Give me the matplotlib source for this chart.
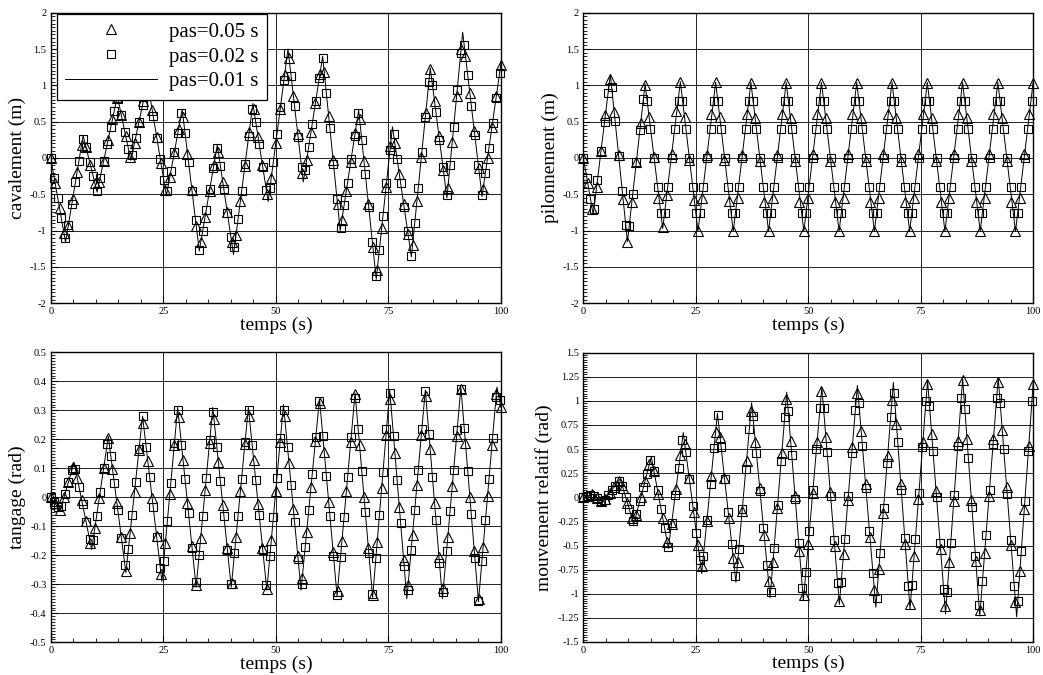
import numpy as np
import matplotlib
matplotlib.use('Agg')
import matplotlib.pyplot as plt
from matplotlib.ticker import MultipleLocator, FuncFormatter

plt.rcParams['font.family'] = ['Liberation Serif', 'DejaVu Serif']

# output times of the two coarse runs (s)
t_tri = np.arange(103) * 0.98     # pas=0.05 s
t_sq = np.arange(128) * 0.785     # pas=0.02 s

# ---- cavalement (m) ----
cav_tri = [0.00, -0.34, -0.69, -1.03, -0.93, -0.56, -0.19, 0.18, 0.15, -0.10,
           -0.34, -0.33, -0.04, 0.25, 0.53, 0.82, 0.59, 0.30, 0.02, 0.21,
           0.50, 0.78, 1.03, 0.66, 0.29, -0.07, -0.44, -0.26, 0.07, 0.40,
           0.57, 0.06, -0.44, -0.94, -1.16, -0.81, -0.45, -0.09, 0.08, -0.33,
           -0.74, -1.15, -1.06, -0.59, -0.11, 0.36, 0.68, 0.29, -0.10, -0.49,
           -0.27, 0.20, 0.67, 1.14, 1.38, 0.85, 0.33, -0.20, -0.03, 0.36,
           0.76, 1.15, 1.18, 0.58, -0.03, -0.63, -0.85, -0.45, -0.05, 0.34,
           0.54, -0.04, -0.63, -1.22, -1.54, -0.97, -0.40, 0.17, 0.20, -0.22,
           -0.64, -1.05, -1.20, -0.59, 0.01, 0.62, 1.23, 0.78, 0.30, -0.17,
           -0.42, 0.22, 0.86, 1.50, 1.40, 0.89, 0.37, -0.14, -0.43, 0.00,
           0.43, 0.86, 1.28]
cav_sq = [0.00, -0.28, -0.55, -0.83, -1.10, -0.92, -0.63, -0.33, -0.04, 0.26,
          0.15, -0.05, -0.25, -0.45, -0.27, -0.04, 0.19, 0.42, 0.65, 0.82,
          0.59, 0.36, 0.13, 0.04, 0.27, 0.50, 0.73, 0.96, 0.87, 0.58,
          0.28, -0.01, -0.30, -0.45, -0.18, 0.08, 0.35, 0.62, 0.35, -0.06,
          -0.46, -0.86, -1.26, -1.00, -0.72, -0.43, -0.14, 0.14, -0.11, -0.43,
          -0.76, -1.09, -1.22, -0.84, -0.46, -0.08, 0.30, 0.67, 0.50, 0.19,
          -0.12, -0.44, -0.42, -0.05, 0.33, 0.70, 1.08, 1.45, 1.13, 0.71,
          0.29, -0.13, -0.16, 0.15, 0.47, 0.79, 1.10, 1.37, 0.89, 0.41,
          -0.08, -0.56, -0.97, -0.65, -0.34, -0.02, 0.30, 0.62, 0.25, -0.22,
          -0.68, -1.15, -1.62, -1.26, -0.80, -0.34, 0.11, 0.33, -0.01, -0.34,
          -0.68, -1.01, -1.35, -0.89, -0.41, 0.08, 0.57, 1.05, 1.01, 0.63,
          0.25, -0.13, -0.51, -0.09, 0.42, 0.93, 1.44, 1.55, 1.14, 0.72,
          0.31, -0.10, -0.51, -0.20, 0.14, 0.48, 0.83, 1.17]
cav_t = [0, 3.3, 7.2, 10.3, 14.8, 17.8, 21.5, 25.7, 29.2, 33.0, 37.0, 40.6, 44.9, 48.3,
         52.7, 56.1, 60.4, 64.3, 68.4, 72.3, 75.9, 80.1, 84.3, 88.0, 91.5, 95.8, 100]
cav_line = [0, -1.16, 0.31, -0.47, 0.85, -0.03, 1.05, -0.52, 0.67, -1.28, 0.18, -1.33, 0.75, -0.60,
            1.50, -0.33, 1.40, -1.00, 0.66, -1.67, 0.43, -1.36, 1.24, -0.55, 1.73, -0.53, 1.30]

# ---- pilonnement (m) ----
pil_tri = [0.00, -0.35, -0.70, -0.40, 0.09, 0.59, 1.09, 0.63, 0.04, -0.56,
           -1.15, -0.61, -0.06, 0.48,
           1.00, 0.57, 0.01, -0.55, -0.95, -0.51, 0.06, 0.64,
           1.04, 0.56, -0.03, -0.58, -1.00, -0.55, 0.04, 0.61,
           1.04, 0.56, -0.03, -0.59, -1.00, -0.55, 0.04, 0.60,
           1.03, 0.55, -0.04, -0.60, -1.00, -0.55, 0.04, 0.60,
           1.03, 0.55, -0.04, -0.60, -1.00, -0.55, 0.05, 0.60,
           1.03, 0.55, -0.04, -0.60, -1.00, -0.55, 0.05, 0.60,
           1.03, 0.55, -0.04, -0.60, -1.00, -0.55, 0.05, 0.61,
           1.03, 0.55, -0.04, -0.60, -1.00, -0.55, 0.05, 0.61,
           1.03, 0.55, -0.04, -0.60, -1.00, -0.55, 0.05, 0.61,
           1.03, 0.55, -0.04, -0.60, -1.00, -0.55, 0.05, 0.61,
           1.03, 0.55, -0.04, -0.60, -1.00, -0.55, 0.05, 0.61,
           1.03]
pil_sq = [0.00, -0.28, -0.56, -0.70, -0.30, 0.10, 0.49, 0.89, 0.98, 0.51,
          0.03, -0.45, -0.92, -0.93, -0.49, -0.06, 0.38, 0.81,
          0.78, 0.40, 0.00, -0.40, -0.76, -0.76, -0.40, 0.00, 0.40, 0.78,
          0.78, 0.40, 0.00, -0.40, -0.76, -0.76, -0.40, 0.00, 0.40, 0.78,
          0.78, 0.40, 0.00, -0.40, -0.76, -0.76, -0.40, 0.00, 0.40, 0.78,
          0.78, 0.40, 0.00, -0.40, -0.76, -0.76, -0.40, 0.00, 0.40, 0.78,
          0.78, 0.40, 0.00, -0.40, -0.76, -0.76, -0.40, 0.00, 0.40, 0.78,
          0.78, 0.40, 0.00, -0.40, -0.76, -0.76, -0.40, 0.00, 0.40, 0.78,
          0.78, 0.40, 0.00, -0.40, -0.76, -0.76, -0.40, 0.00, 0.40, 0.78,
          0.78, 0.40, 0.00, -0.40, -0.76, -0.76, -0.40, 0.00, 0.40, 0.78,
          0.78, 0.40, 0.00, -0.40, -0.76, -0.76, -0.40, 0.00, 0.40, 0.78,
          0.78, 0.40, 0.00, -0.40, -0.76, -0.76, -0.40, 0.00, 0.40, 0.78,
          0.78, 0.40, 0.00, -0.40, -0.76, -0.76, -0.40, 0.00, 0.40, 0.78]
pil_t = [0, 2.2, 6.0, 9.8, 13.72, 17.64, 21.56, 25.48, 29.40, 33.32, 37.24, 41.16, 45.08, 49.00,
         52.92, 56.84, 60.76, 64.68, 68.60, 72.52, 76.44, 80.36, 84.28, 88.20, 92.12, 96.04, 99.96, 100]
pil_line = [0, -0.78, 1.15, -1.15, 1.02, -0.97, 1.05, -1.01, 1.04, -1.01, 1.04, -1.01, 1.04, -1.01,
            1.04, -1.01, 1.04, -1.01, 1.04, -1.01, 1.04, -1.01, 1.04, -1.01, 1.04, -1.01, 1.04, 1.03]

# ---- tangage (rad) ----
tan_tri = [0.000, -0.021, -0.042, 0.000, 0.052, 0.104, 0.068, -0.008, -0.083, -0.158,
           -0.106, -0.003, 0.100, 0.204, 0.099, -0.019, -0.137, -0.255, -0.123, 0.020,
           0.163, 0.256, 0.126, -0.004, -0.134, -0.264, -0.156, 0.012, 0.180, 0.277,
           0.129, -0.020, -0.168, -0.303, -0.139, 0.025, 0.189, 0.271, 0.123, -0.026,
           -0.174, -0.297, -0.137, 0.023, 0.183, 0.279, 0.129, -0.022, -0.173, -0.317,
           -0.147, 0.023, 0.192, 0.281, 0.120, -0.041, -0.202, -0.278, -0.120, 0.037,
           0.195, 0.326, 0.155, -0.016, -0.187, -0.323, -0.151, 0.021, 0.192, 0.356,
           0.179, 0.002, -0.175, -0.337, -0.153, 0.031, 0.216, 0.340, 0.154, -0.032,
           -0.217, -0.301, -0.129, 0.043, 0.215, 0.351, 0.165, -0.020, -0.206, -0.311,
           -0.136, 0.038, 0.212, 0.372, 0.187, 0.001, -0.185, -0.349, -0.172, 0.005,
           0.182, 0.358, 0.313]
tan_sq = [0.000, -0.017, -0.034, -0.031, 0.010, 0.052, 0.094, 0.097, 0.037, -0.023,
          -0.084, -0.144, -0.146, -0.064, 0.019, 0.102, 0.185, 0.144, 0.050, -0.045,
          -0.139, -0.234, -0.177, -0.062, 0.052, 0.167, 0.280, 0.175, 0.070, -0.034,
          -0.138, -0.242, -0.218, -0.083, 0.051, 0.186, 0.301, 0.182, 0.064, -0.055,
          -0.174, -0.293, -0.198, -0.066, 0.065, 0.197, 0.293, 0.175, 0.056, -0.063,
          -0.181, -0.300, -0.192, -0.064, 0.064, 0.192, 0.301, 0.180, 0.059, -0.061,
          -0.182, -0.302, -0.204, -0.068, 0.068, 0.203, 0.302, 0.173, 0.044, -0.085,
          -0.213, -0.298, -0.172, -0.045, 0.081, 0.207, 0.333, 0.210, 0.073, -0.064,
          -0.201, -0.337, -0.205, -0.068, 0.070, 0.207, 0.344, 0.234, 0.092, -0.050,
          -0.191, -0.333, -0.209, -0.062, 0.086, 0.234, 0.359, 0.210, 0.061, -0.088,
          -0.236, -0.318, -0.180, -0.042, 0.096, 0.234, 0.368, 0.219, 0.071, -0.078,
          -0.227, -0.326, -0.186, -0.047, 0.093, 0.233, 0.373, 0.239, 0.090, -0.059,
          -0.208, -0.357, -0.221, -0.079, 0.062, 0.204, 0.346, 0.334]
tan_t = [0, 2.1, 5.2, 9.1, 12.8, 16.7, 20.4, 24.7, 28.2, 32.3, 36.0, 40.1, 43.9, 48.0,
         51.7, 55.6, 59.7, 63.6, 67.6, 71.5, 75.3, 79.1, 83.2, 87.0, 91.1, 95.0, 99.1, 100]
tan_line = [0, -0.045, 0.12, -0.18, 0.21, -0.26, 0.28, -0.29, 0.31, -0.31, 0.31, -0.31, 0.31, -0.32,
            0.32, -0.32, 0.34, -0.34, 0.36, -0.345, 0.37, -0.35, 0.37, -0.35, 0.38, -0.36, 0.38, 0.31]

# ---- mouvement relatif (rad) ----
rel_tri = [0.000, 0.015, 0.029, -0.003, -0.037, -0.013, 0.047, 0.107, 0.168, 0.093,
           -0.061, -0.214, -0.179, 0.004, 0.172, 0.348, 0.275, 0.030, -0.215, -0.460,
           -0.275, 0.081, 0.437, 0.549, 0.200, -0.149, -0.498, -0.714, -0.249, 0.216,
           0.680, 0.622, 0.204, -0.214, -0.632, -0.667, -0.147, 0.374, 0.895, 0.576,
           0.093, -0.390, -0.873, -0.672, -0.107, 0.457, 1.021, 0.588, 0.016, -0.556,
           -1.016, -0.488, 0.040, 0.569, 1.097, 0.621, 0.055, -0.510, -1.075, -0.588,
           -0.032, 0.524, 1.081, 0.689, 0.139, -0.411, -0.961, -0.746, -0.160, 0.425,
           1.011, 0.758, 0.136, -0.487, -1.109, -0.613, -0.018, 0.578, 1.174, 0.653,
           0.061, -0.532, -1.125, -0.671, -0.041, 0.588, 1.220, 0.609, -0.026, -0.660,
           -1.170, -0.579, 0.011, 0.601, 1.192, 0.696, 0.103, -0.490, -1.083, -0.765,
           -0.119, 0.527, 1.174]
rel_sq = [0.000, 0.012, 0.024, 0.018, -0.010, -0.037, -0.025, 0.023, 0.072, 0.120,
          0.168, 0.122, 0.001, -0.124, -0.247, -0.177, -0.036, 0.105, 0.246, 0.387,
          0.270, 0.074, -0.123, -0.319, -0.515, -0.266, 0.019, 0.304, 0.590, 0.469,
          0.189, -0.090, -0.370, -0.649, -0.605, -0.233, 0.140, 0.512, 0.857, 0.522,
          0.187, -0.148, -0.483, -0.818, -0.540, -0.123, 0.294, 0.712, 0.842, 0.455,
          0.069, -0.318, -0.705, -0.980, -0.528, -0.076, 0.376, 0.828, 0.897, 0.439,
          -0.019, -0.478, -0.936, -0.771, -0.348, 0.075, 0.498, 0.922, 0.921, 0.468,
          0.015, -0.438, -0.891, -0.880, -0.435, 0.011, 0.456, 0.902, 0.975, 0.534,
          0.094, -0.346, -0.787, -1.047, -0.578, -0.109, 0.359, 0.828, 1.076, 0.577,
          0.079, -0.420, -0.919, -0.914, -0.437, 0.040, 0.517, 0.994, 0.950, 0.475,
          0.000, -0.475, -0.950, -0.982, -0.478, 0.026, 0.530, 1.034, 0.919, 0.411,
          -0.097, -0.605, -1.114, -0.866, -0.393, 0.080, 0.553, 1.026, 0.980, 0.505,
          0.030, -0.445, -0.919, -1.072, -0.554, -0.036, 0.481, 0.999]
rel_t = [0, 2.0, 4.3, 8.2, 11.2, 15.1, 18.9, 22.2, 26.3, 29.8, 33.9, 37.4, 41.5, 45.2,
         48.9, 53.0, 56.9, 60.9, 65.0, 68.9, 72.6, 76.5, 80.5, 84.3, 88.1, 92.2, 96.3, 100]
rel_line = [0, 0.03, -0.05, 0.19, -0.28, 0.42, -0.53, 0.67, -0.79, 0.87, -0.88, 0.98, -1.04, 1.09,
            -1.07, 1.14, -1.11, 1.16, -1.14, 1.19, -1.16, 1.21, -1.21, 1.23, -1.23, 1.24, -1.24, 1.20]


def fmt(x, pos):
    x = round(x, 6)
    if x == 0:
        return '0'
    return '%g' % x


def panel(rect, tri, sq, lt, lv, ylim, major, ylabel):
    ax = fig.add_axes(rect)
    ax.plot(lt, lv, color='black', lw=0.7, label='pas=0.01 s', zorder=3)
    ax.plot(t_sq, sq, ls='none', marker='s', ms=5.5, mfc='none', mec='black',
            mew=0.8, label='pas=0.02 s', zorder=4, clip_on=False)
    ax.plot(t_tri, tri, ls='none', marker='^', ms=6.5, mfc='none', mec='black',
            mew=0.8, label='pas=0.05 s', zorder=5, clip_on=False)
    ax.set_xlim(0, 100)
    ax.set_ylim(*ylim)
    ax.xaxis.set_major_locator(MultipleLocator(25))
    ax.xaxis.set_minor_locator(MultipleLocator(5))
    ax.yaxis.set_major_locator(MultipleLocator(major))
    ax.yaxis.set_minor_locator(MultipleLocator(major / 10))
    ax.xaxis.set_major_formatter(FuncFormatter(fmt))
    ax.yaxis.set_major_formatter(FuncFormatter(fmt))
    ax.tick_params(which='both', direction='in', top=False, right=False,
                   labelsize=7.5, pad=3)
    ax.tick_params(which='major', length=5)
    ax.tick_params(which='minor', length=3)
    ax.grid(True, which='major', color='#222222', lw=0.7)
    ax.set_axisbelow(True)
    for s in ax.spines.values():
        s.set_linewidth(1.0)
    ax.set_xlabel('temps (s)', fontsize=14, labelpad=0)
    ax.set_ylabel(ylabel, fontsize=14, labelpad=3)
    return ax


fig = plt.figure(figsize=(10.43, 6.75), dpi=100)

ax1 = panel([0.0486, 0.5507, 0.4317, 0.4305], cav_tri, cav_sq, cav_t, cav_line,
            (-2, 2), 0.5, 'cavalement (m)')
ax2 = panel([0.5593, 0.5507, 0.4314, 0.4305], pil_tri, pil_sq, pil_t, pil_line,
            (-2, 2), 0.5, 'pilonnement (m)')
ax3 = panel([0.0486, 0.0484, 0.4317, 0.4296], tan_tri, tan_sq, tan_t, tan_line,
            (-0.5, 0.5), 0.1, 'tangage (rad)')
ax4 = panel([0.5593, 0.0489, 0.4314, 0.4288], rel_tri, rel_sq, rel_t, rel_line,
            (-1.5, 1.5), 0.25, 'mouvement relatif (rad)')

h, l = ax1.get_legend_handles_labels()
leg = ax1.legend(h[::-1], l[::-1], loc='upper left', bbox_to_anchor=(0.013, 0.996),
                 borderaxespad=0, fontsize=15, handlelength=4.4, handletextpad=0.6,
                 labelspacing=0.25, borderpad=0.4, numpoints=1, fancybox=False,
                 framealpha=1, edgecolor='black')
leg.get_frame().set_linewidth(0.9)
leg.set_zorder(10)

fig.savefig('out.png', dpi=100)
